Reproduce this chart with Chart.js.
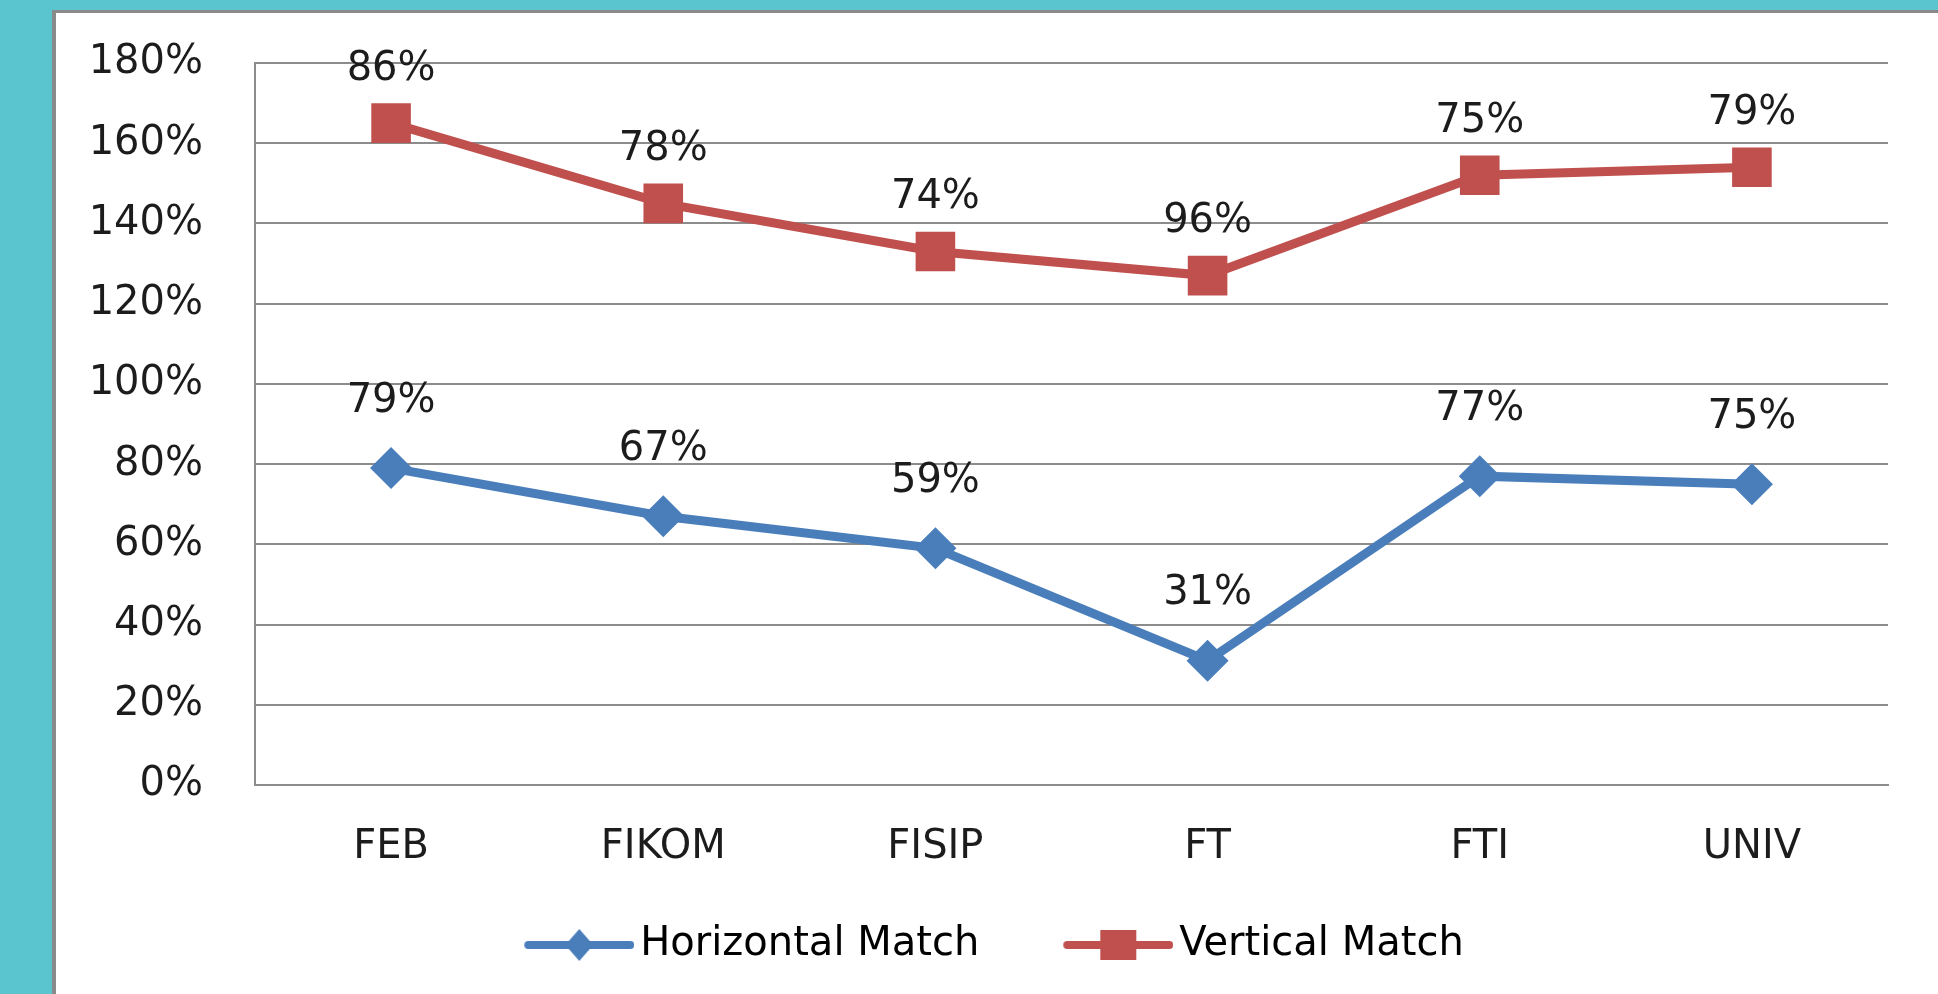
<!DOCTYPE html>
<html>
<head>
<meta charset="utf-8">
<script src="https://cdn.jsdelivr.net/npm/chart.js@4/dist/chart.umd.min.js"></script>
<style>
  html, body { margin: 0; padding: 0; width: 1938px; height: 994px; overflow: hidden; background: #5BC5CF; }
  #panel { position: absolute; left: 52px; top: 10px; width: 1900px; height: 1000px; background: #ffffff;
           border-left: 4px solid #8a8a8a; border-top: 3px solid #8a8a8a; }
  #wrap { position: absolute; left: 0; top: 0; width: 1882px; height: 981px; }
</style>
</head>
<body>
<div id="panel"><div id="wrap"><canvas id="c"></canvas></div></div>
<script>
// ---- data (percent) ----
const categories = ['FEB', 'FIKOM', 'FISIP', 'FT', 'FTI', 'UNIV'];
const horizontalMatch = [79, 67, 59, 31, 77, 75];
const verticalMatch = [86, 78, 74, 96, 75, 79];
const yTicks = [0, 20, 40, 60, 80, 100, 120, 140, 160, 180];
const seriesNames = ['Horizontal Match', 'Vertical Match'];

const BLUE = '#4A7EBB';
const RED = '#C0504D';
const FONT = "'DejaVu Sans', Verdana, sans-serif";
const TEXT = '#1c1c1c';
const GRID = '#8c8c8c';

// legend icon: line with marker; left part transparent to create spacing
function legendIcon(color, shape) {
  const cv = document.createElement('canvas');
  cv.width = 168; cv.height = 34;
  const g = cv.getContext('2d');
  g.strokeStyle = color; g.lineWidth = 8; g.lineCap = 'round';
  g.beginPath(); g.moveTo(62, 17); g.lineTo(164, 17); g.stroke();
  g.fillStyle = color;
  const cx = 113;
  if (shape === 'diamond') {
    g.beginPath(); g.moveTo(cx, 1); g.lineTo(cx + 14, 17); g.lineTo(cx, 33); g.lineTo(cx - 14, 17); g.closePath(); g.fill();
  } else {
    g.fillRect(cx - 18, 2, 36, 30);
  }
  return cv;
}

const labelPlugin = {
  id: 'valueLabels',
  afterDatasetsDraw(chart) {
    const ctx = chart.ctx;
    ctx.save();
    ctx.font = '40px ' + FONT;
    ctx.fillStyle = TEXT;
    ctx.textAlign = 'center';
    ctx.textBaseline = 'middle';
    chart.data.datasets.forEach((ds, i) => {
      const meta = chart.getDatasetMeta(i);
      meta.data.forEach((pt, j) => {
        ctx.fillText(ds.data[j] + '%', pt.x, pt.y - ds.labelOffset);
      });
    });
    ctx.restore();
  }
};

new Chart(document.getElementById('c'), {
  type: 'line',
  data: {
    labels: categories,
    datasets: [
      { label: seriesNames[0], data: horizontalMatch, borderColor: BLUE, backgroundColor: BLUE,
        borderWidth: 9, pointStyle: 'rectRot', pointRadius: 21, pointBorderWidth: 0,
        pointBackgroundColor: BLUE, tension: 0, fill: false, labelOffset: 67,
        legendIcon: legendIcon(BLUE, 'diamond') },
      { label: seriesNames[1], data: verticalMatch, borderColor: RED, backgroundColor: RED,
        borderWidth: 9, pointStyle: 'rect', pointRadius: 28, pointBorderWidth: 0,
        pointBackgroundColor: RED, tension: 0, fill: false, labelOffset: 54,
        legendIcon: legendIcon(RED, 'square') }
    ]
  },
  options: {
    responsive: true,
    maintainAspectRatio: false,
    animation: false,
    layout: { padding: { top: 50, right: 50, left: 0, bottom: 19 } },
    plugins: {
      tooltip: { enabled: false },
      legend: {
        position: 'bottom',
        labels: {
          usePointStyle: true,
          pointStyleWidth: 140,
          boxHeight: 34,
          padding: 40,
          color: TEXT,
          font: { family: FONT, size: 40 },
          generateLabels(chart) {
            return chart.data.datasets.map((ds, i) => ({
              text: ds.label, pointStyle: ds.legendIcon, fillStyle: ds.borderColor,
              strokeStyle: ds.borderColor, lineWidth: 0, datasetIndex: i, hidden: false
            }));
          }
        }
      }
    },
    scales: {
      x: {
        offset: true,
        grid: { display: false, drawTicks: false },
        border: { display: true, color: GRID, width: 2 },
        ticks: { color: TEXT, font: { family: FONT, size: 40 }, padding: 39 },
        afterFit(s) { s.height = 100; s.paddingLeft = 0; s.paddingRight = 0; }
      },
      y: {
        stacked: true,
        min: 0, max: 180,
        afterBuildTicks(s) { s.ticks = yTicks.map(v => ({ value: v })); },
        grid: { color: GRID, lineWidth: 2, drawTicks: false },
        border: { display: true, color: GRID, width: 2 },
        ticks: { color: TEXT, font: { family: FONT, size: 40 }, padding: 52,
                 callback: v => v + '%' },
        afterFit(s) { s.width = 199; s.paddingTop = 0; s.paddingBottom = 0; }
      }
    }
  },
  plugins: [labelPlugin]
});
</script>
</body>
</html>
